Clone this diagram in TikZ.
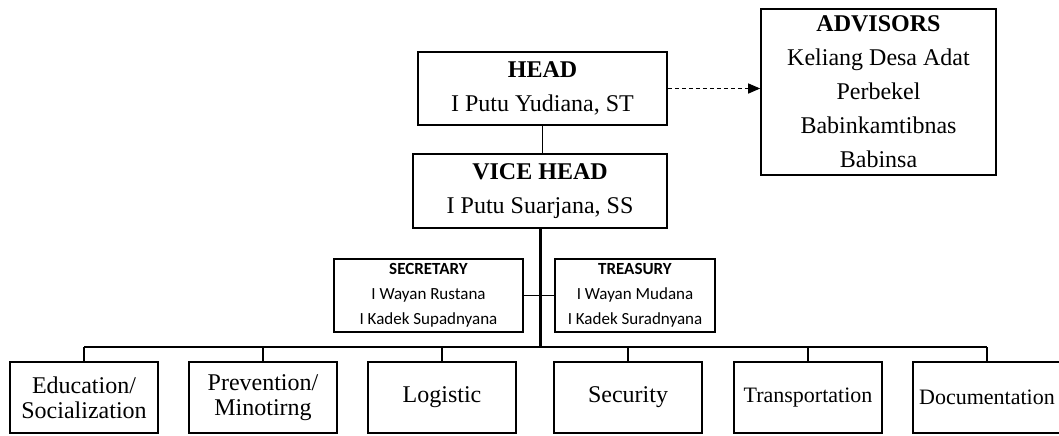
\documentclass[tikz,border=0pt]{standalone}
\usepackage{fontspec}
\setmainfont{Liberation Serif}
\newfontfamily\calibrifont{Carlito}
\usetikzlibrary{arrows.meta}

\begin{document}
\begin{tikzpicture}[
            x = 0.5pt, y = -0.5pt,
            box/.style = {draw, line width = 0.8pt, align = center, inner sep = 0pt, font = \fontsize{12}{17}\selectfont},
            smallbox/.style = {box, minimum height = 36.5pt, font = \calibrifont\fontsize{8.5}{12.5}\selectfont},
            unit/.style = {box, minimum width = 74pt, minimum height = 35.5pt, font = \fontsize{12}{12.5}\selectfont},
            link/.style = {draw, line width = 0.6pt}
        ]
        \useasboundingbox (0,0) rectangle (1059,435);
        \node[box, minimum width = 124.5pt, minimum height = 36.5pt] (head) at (542.5,88.5) {\textbf{HEAD}\\I Putu Yudiana, ST};
        \node[box, minimum width = 127pt, minimum height = 37pt] (vice) at (540,191) {\textbf{VICE HEAD}\\I Putu Suarjana, SS};
        \node[box, minimum width = 117.5pt, minimum height = 83pt] (adv) at (878.5,92) {\textbf{ADVISORS}\\Keliang Desa Adat\\Perbekel\\Babinkamtibnas\\Babinsa};
        \node[smallbox, minimum width = 94.5pt] (sec) at (428.5,295.5) {\textbf{SECRETARY}\\I Wayan Rustana\\I Kadek Supadnyana};
        \node[smallbox, minimum width = 80pt] (tre) at (635,295.5) {\textbf{TREASURY}\\I Wayan Mudana\\I Kadek Suradnyana};
        \node[unit] (u1) at (84,397.5) {Education/\\Socialization};
        \node[unit] (u2) at (263,397.5) {Prevention/\\Minotirng};
        \node[unit] (u3) at (442,397.5) {Logistic};
        \node[unit] (u4) at (628,397.5) {Security};
        \node[unit, font = \fontsize{11}{12.5}\selectfont] (u5) at (808,397.5) {Transportation};
        \node[unit, font = \fontsize{11}{12.5}\selectfont] (u6) at (987,397.5) {Documentation};
        \coordinate (bus) at (540,347);
        \draw[link] (head.south) -- (head.south |- vice.north);
        \draw[dashed, dash pattern = on 2pt off 1.5pt, line width = 0.6pt, -{Triangle[length = 6pt, width = 5pt]}] (head.east) -- (head.east -| adv.west);
        \draw[line width = 1.5pt] (vice.south) -- (bus);
        \draw[line width = 0.8pt] (sec.east) -- (tre.west);
        \draw[line width = 0.8pt] (u1.north |- bus) -- (u6.north |- bus);
        \foreach \i in {1,...,6}
            \draw[link] (u\i.north) -- (u\i.north |- bus);
    \end{tikzpicture}
\end{document}
